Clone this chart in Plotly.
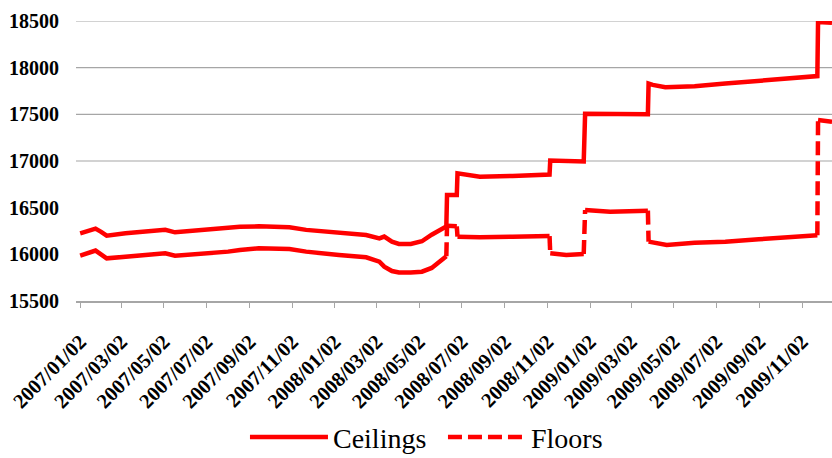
import plotly.graph_objects as go

# ---- data ----
ceil_dates = ["2007-01-02", "2007-01-12", "2007-01-24", "2007-02-01", "2007-02-09", "2007-03-08",
              "2007-04-10", "2007-05-04", "2007-05-18", "2007-06-26", "2007-08-02", "2007-08-19",
              "2007-09-15", "2007-10-29", "2007-11-22", "2008-01-08", "2008-02-16", "2008-03-06",
              "2008-03-13", "2008-03-24", "2008-04-03", "2008-04-20", "2008-05-06", "2008-05-20",
              "2008-06-07", "2008-06-10", "2008-06-11", "2008-06-25", "2008-06-26", "2008-07-28",
              "2008-09-13", "2008-11-05", "2008-11-06", "2008-12-24", "2008-12-26", "2009-03-26",
              "2009-03-27", "2009-04-02", "2009-04-20", "2009-06-01", "2009-07-15", "2009-09-01",
              "2009-11-01", "2009-11-24", "2009-11-25", "2009-12-15"]
ceil_vals = [16225, 16250, 16275, 16240, 16200, 16225,
             16243, 16262, 16236, 16260, 16280, 16296,
             16300, 16290, 16262, 16236, 16207, 16170,
             16190, 16136, 16112, 16112, 16140, 16210,
             16290, 16300, 16636, 16636, 16868, 16832,
             16840, 16855, 17005, 16995, 17505, 17500,
             17830, 17815, 17790, 17800, 17830, 17860,
             17900, 17910, 18490, 18480]

floor_dates = ["2007-01-02", "2007-01-24", "2007-02-09", "2007-03-08", "2007-04-10", "2007-05-04",
               "2007-05-18", "2007-06-26", "2007-08-02", "2007-08-19", "2007-09-15", "2007-10-29",
               "2007-11-22", "2008-01-08", "2008-02-16", "2008-03-06", "2008-03-13", "2008-03-24",
               "2008-04-03", "2008-04-20", "2008-05-06", "2008-05-20", "2008-05-30", "2008-06-10",
               "2008-06-11", "2008-06-25", "2008-06-26", "2008-07-28", "2008-09-13", "2008-11-05",
               "2008-11-06", "2008-11-29", "2008-12-24", "2008-12-26", "2009-01-31", "2009-03-26",
               "2009-03-27", "2009-04-22", "2009-06-01", "2009-07-15", "2009-09-01", "2009-11-01",
               "2009-11-24", "2009-11-25", "2009-12-15"]
floor_vals = [15985, 16040, 15957, 15975, 15993, 16011,
              15986, 16004, 16029, 16046, 16064, 16057,
              16029, 15993, 15968, 15921, 15868, 15821,
              15805, 15805, 15814, 15854, 15921, 15980,
              16305, 16300, 16189, 16182, 16189, 16196,
              16011, 15993, 16004, 16475, 16457, 16468,
              16136, 16100, 16125, 16136, 16161, 16200,
              16205, 17439, 17421]

tick_dates = ["2007-01-02", "2007-03-02", "2007-05-02", "2007-07-02", "2007-09-02", "2007-11-02",
              "2008-01-02", "2008-03-02", "2008-05-02", "2008-07-02", "2008-09-02", "2008-11-02",
              "2009-01-02", "2009-03-02", "2009-05-02", "2009-07-02", "2009-09-02", "2009-11-02"]
tick_labels = [d.replace("-", "/") for d in tick_dates]

y_ticks = [15500, 16000, 16500, 17000, 17500, 18000, 18500]
grid_levels = [17000, 17500, 18000, 18500]

RED = "#ff0000"
GREY = "#a6a6a6"
SERIF = "Liberation Serif"

# floors: flat parts solid, big jumps dashed
solid_x, solid_y, jump_x, jump_y = [], [], [], []
for i, (d, v) in enumerate(zip(floor_dates, floor_vals)):
    if i > 0 and abs(v - floor_vals[i - 1]) > 100:
        solid_x.append(None); solid_y.append(None)
        jump_x += [floor_dates[i - 1], d, None]
        jump_y += [floor_vals[i - 1], v, None]
    solid_x.append(d); solid_y.append(v)

fig = go.Figure()
fig.add_trace(go.Scatter(x=ceil_dates, y=ceil_vals, mode="lines", name="Ceilings",
                         line=dict(color=RED, width=4.5), legendgroup="c"))
fig.add_trace(go.Scatter(x=jump_x, y=jump_y, mode="lines", name="Floors",
                         line=dict(color=RED, width=4.5, dash="14px,6px"), legendgroup="f"))
fig.add_trace(go.Scatter(x=solid_x, y=solid_y, mode="lines", name="Floors",
                         line=dict(color=RED, width=4.5), legendgroup="f", showlegend=False))

for lv in grid_levels:
    fig.add_shape(type="line", xref="paper", x0=0, x1=1, yref="y", y0=lv, y1=lv,
                  line=dict(color=GREY, width=1.2), layer="below")

fig.update_layout(
    width=832, height=458,
    margin=dict(l=76, r=0, t=21, b=157, autoexpand=False),
    paper_bgcolor="white", plot_bgcolor="white",
    font=dict(family=SERIF, color="black"),
    showlegend=True,
    legend=dict(orientation="h", x=0.2235, xanchor="left", y=-0.487, yanchor="middle",
                font=dict(family=SERIF, size=28, color="black"), itemwidth=78,
                entrywidth=105, traceorder="normal"),
    xaxis=dict(type="date", range=["2006-12-27", "2009-12-15"], automargin=False,
               tickmode="array", tickvals=tick_dates, ticktext=tick_labels,
               tickangle=-45, tickfont=dict(family=SERIF, size=20.5, color="black", weight="bold"),
               showgrid=False, showline=True, linecolor=GREY, linewidth=1.5,
               ticks="outside", ticklen=5, tickcolor=GREY, zeroline=False,
               ticklabelstandoff=14),
    yaxis=dict(range=[15500, 18500], tickmode="array", tickvals=y_ticks, automargin=False,
               ticktext=[str(v) for v in y_ticks],
               tickfont=dict(family=SERIF, size=20, color="black", weight="bold"),
               showgrid=False, zeroline=False, showline=False, ticks="",
               ticklabelstandoff=16),
)

fig.write_html("out.html", config={"displayModeBar": False},
               post_script="document.body.style.margin='0';document.body.style.overflow='hidden';")
